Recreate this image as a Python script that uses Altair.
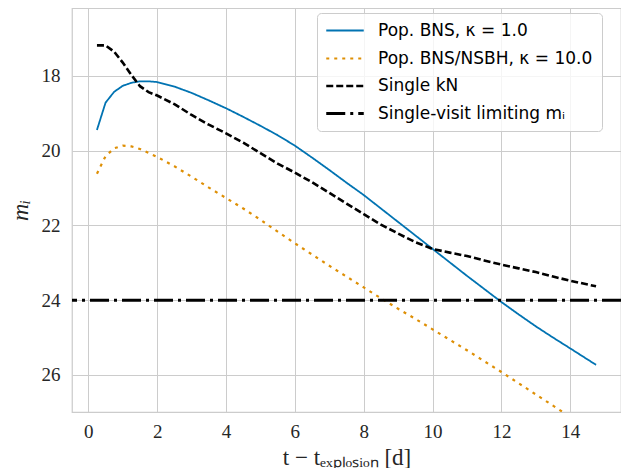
import altair as alt
import pandas as pd

# ---- data ----
t_bns = [0.25, 0.5, 0.75, 1.0, 1.25, 1.5, 1.75, 2.0, 2.5, 3.0, 3.5, 4.0, 4.5, 5.0, 5.5,
         6.0, 6.5, 7.0, 7.5, 8.0, 8.5, 9.0, 9.5, 10.0, 10.5, 11.0, 11.5, 12.0, 12.5,
         13.0, 13.5, 14.0, 14.75]
m_bns = [19.45, 18.72, 18.43, 18.27, 18.19, 18.15, 18.15, 18.17, 18.29, 18.46, 18.66,
         18.87, 19.10, 19.34, 19.59, 19.87, 20.19, 20.52, 20.86, 21.19, 21.55, 21.91,
         22.27, 22.63, 22.99, 23.35, 23.70, 24.05, 24.38, 24.70, 25.00, 25.29, 25.73]

t_nsbh = [0.25, 0.5, 0.75, 1.0, 1.25, 1.5, 2.0, 2.5, 3.0, 3.5, 4.0, 4.5, 5.0, 5.5, 6.0,
          6.5, 7.0, 7.5, 8.0, 8.5, 9.0, 9.5, 10.0, 10.5, 11.0, 11.5, 12.0, 12.5, 13.0,
          13.5, 14.0, 14.75]
m_nsbh = [20.62, 20.15, 19.94, 19.87, 19.89, 19.96, 20.17, 20.42, 20.70, 20.99, 21.27,
          21.55, 21.85, 22.17, 22.48, 22.78, 23.08, 23.37, 23.66, 23.95, 24.23, 24.50,
          24.78, 25.06, 25.34, 25.63, 25.92, 26.22, 26.52, 26.82, 27.12, 27.55]

t_kn = [0.25, 0.5, 0.75, 1.0, 1.25, 1.5, 1.75, 2.0, 2.5, 3.0, 3.5, 4.0, 4.5, 5.0, 5.5,
        6.0, 6.5, 7.0, 7.5, 8.0, 8.5, 9.0, 9.5, 10.0, 10.5, 11.0, 11.5, 12.0, 12.5,
        13.0, 13.5, 14.0, 14.75]
m_kn = [17.19, 17.19, 17.36, 17.65, 17.98, 18.28, 18.44, 18.53, 18.76, 19.05, 19.31,
        19.54, 19.79, 20.07, 20.35, 20.59, 20.85, 21.13, 21.42, 21.70, 21.98, 22.22,
        22.45, 22.63, 22.73, 22.82, 22.94, 23.05, 23.15, 23.25, 23.37, 23.48, 23.63]

m_limit = [24.0]

names = ["Pop. BNS, κ = 1.0", "Pop. BNS/NSBH, κ = 10.0", "Single kN",
         "Single-visit limiting mᵢ"]
colors = ["#0173b2", "#de8f05", "#000000", "#000000"]
dashes = [[1, 0], [3, 5], [7, 3], [19, 5, 3, 5]]
widths = [1.8, 3.0, 1.8, 3.0]

x_ticks = [0, 2, 4, 6, 8, 10, 12, 14]
y_ticks = [18, 20, 22, 24, 26]

# ---- tables ----
df_lines = pd.concat([
    pd.DataFrame({"t": t_bns, "m": m_bns, "series": names[0]}),
    pd.DataFrame({"t": t_nsbh, "m": m_nsbh, "series": names[1]}),
    pd.DataFrame({"t": t_kn, "m": m_kn, "series": names[2]}),
], ignore_index=True)
df_limit = pd.DataFrame({"m": m_limit, "series": names[3]})

xscale = alt.Scale(domain=[-0.475, 15.475], nice=False, zero=False)
yscale = alt.Scale(domain=[16.19, 26.99], nice=False, zero=False, reverse=True)

color = alt.Color("series:N", scale=alt.Scale(domain=names, range=colors), title=None)
dash = alt.StrokeDash("series:N", scale=alt.Scale(domain=names, range=dashes), title=None)
width = alt.StrokeWidth("series:N", scale=alt.Scale(domain=names, range=widths), title=None)

lines = alt.Chart(df_lines).mark_line(clip=True, strokeCap="butt").encode(
    x=alt.X("t:Q", scale=xscale,
            axis=alt.Axis(values=x_ticks, title="t − tₑₓₚₗₒₛᵢₒₙ [d]")),
    y=alt.Y("m:Q", scale=yscale, axis=alt.Axis(values=y_ticks, title="mᵢ")),
    color=color, strokeDash=dash, strokeWidth=width,
)

limit = alt.Chart(df_limit).mark_rule(clip=True, strokeCap="butt").encode(
    y=alt.Y("m:Q", scale=yscale),
    color=color, strokeDash=dash, strokeWidth=width,
)

chart = alt.layer(lines, limit).properties(
    width=549, height=404,
    autosize=alt.AutoSizeParams(type="none"),
    padding={"left": 64, "top": 0, "right": 0, "bottom": 56},
).configure_view(
    stroke="#cccccc", strokeWidth=1.25
).configure_axis(
    grid=True, gridColor="#cccccc", gridWidth=1,
    domain=False, ticks=False,
    labelFont="Liberation Serif", labelFontSize=19, labelColor="#262626",
    titleFont="Liberation Serif", titleFontSize=22, titleColor="#262626",
    titleFontWeight="normal",
).configure_axisX(
    labelPadding=10, titlePadding=5, titleFontSize=23
).configure_axisY(
    labelPadding=12, titlePadding=9, titleFontStyle="italic", titleFontSize=24
).configure_legend(
    orient="none", legendX=245, legendY=5,
    padding=9, strokeColor="#cccccc", fillColor="rgba(255,255,255,0.8)",
    cornerRadius=4, symbolType="M-2.5,0H2.5", symbolSize=225,
    symbolOffset=10, labelOffset=24, rowPadding=10.5,
    labelFont="DejaVu Sans", labelFontSize=17, labelColor="#000000",
    labelLimit=400,
)

chart.save("out.html", embed_options={"renderer": "svg", "actions": False})
